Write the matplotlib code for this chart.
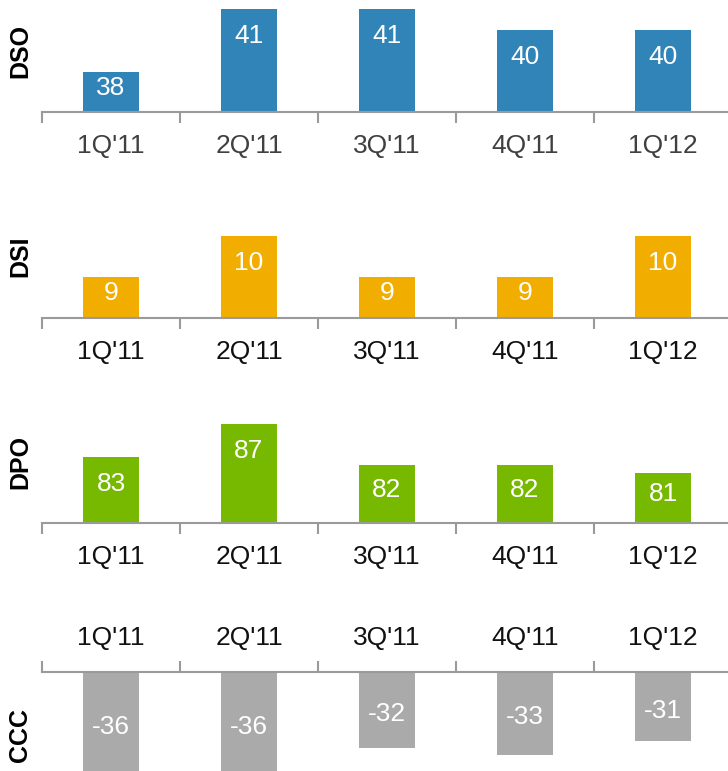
import numpy as np
import matplotlib.pyplot as plt

plt.rcParams['font.family'] = ['Liberation Sans', 'DejaVu Sans']

quarters = ["1Q'11", "2Q'11", "3Q'11", "4Q'11", "1Q'12"]
dso = [38, 41, 41, 40, 40]
dsi = [9, 10, 9, 9, 10]
dpo = [83, 87, 82, 82, 81]
ccc = [-36, -36, -32, -33, -31]

W, H = 728, 771
fig = plt.figure(figsize=(W / 100, H / 100), dpi=100)

axis_col = '#9a9a9a'


def make_axes(top, bottom):
    # pixel extents -> figure fraction, axes run a bit past right edge
    return fig.add_axes([42 / W, 1 - bottom / H, 690 / W, (bottom - top) / H])


def panel(top, bottom, vals, base, ppu, color, name, name_y, tick_col, flip=False):
    ax = make_axes(top, bottom)
    x = np.arange(len(vals))
    vals = np.array(vals, dtype=float)
    span = (bottom - top) / ppu
    if not flip:
        ax.set_ylim(base, base + span)
    else:
        ax.set_ylim(base - span, base)
    ax.set_xlim(-0.5, len(vals) - 0.5)
    ax.bar(x, vals - base, bottom=base, width=0.4, color=color, zorder=2)

    for s in ['left', 'right', 'top', 'bottom']:
        ax.spines[s].set_visible(False)
    edge = 'top' if flip else 'bottom'
    ax.spines[edge].set_visible(True)
    ax.spines[edge].set_color(axis_col)
    ax.spines[edge].set_linewidth(1.5)
    ax.set_yticks([])
    if flip:
        ax.xaxis.tick_top()
    ax.set_xticks(x)
    ax.set_xticklabels(quarters, fontsize=19, color=tick_col)
    ax.set_xticks(np.arange(-0.5, len(vals)), minor=True)
    ax.tick_params(axis='x', which='major', length=0, pad=16)
    ax.tick_params(axis='x', which='minor', length=8, width=1.5,
                   color=axis_col, direction='out')

    for xi, v in zip(x, vals):
        h_px = abs(v - base) * ppu
        if not flip:
            off = min(27, h_px / 2 - 4)
            ax.annotate(f'{v:.0f}', (xi, v), xytext=(0, -off * 0.72),
                        textcoords='offset points', ha='center', va='center',
                        color='white', fontsize=19, zorder=3)
        else:
            off = h_px / 2 + 4
            ax.annotate(f'{v:.0f}', (xi, base), xytext=(0, -off * 0.72),
                        textcoords='offset points', ha='center', va='center',
                        color='white', fontsize=19, zorder=3)

    fig.text(20 / W, 1 - name_y / H, name, rotation=90, ha='center',
             va='center', fontsize=18, fontweight='bold')
    return ax


panel(0, 112, dso, 36.1, 21, '#3184b8', 'DSO', 51, '#404040')
panel(220, 318, dsi, 8.0, 41, '#f2ae00', 'DSI', 256, '#111111')
panel(410, 523, dpo, 75.0, 8.25, '#76b900', 'DPO', 462, '#111111')
panel(672, 790, ccc, -20.5, 6.6, '#aaaaaa', 'CCC', 735, '#111111', flip=True)

fig.savefig('out.png', dpi=100)
